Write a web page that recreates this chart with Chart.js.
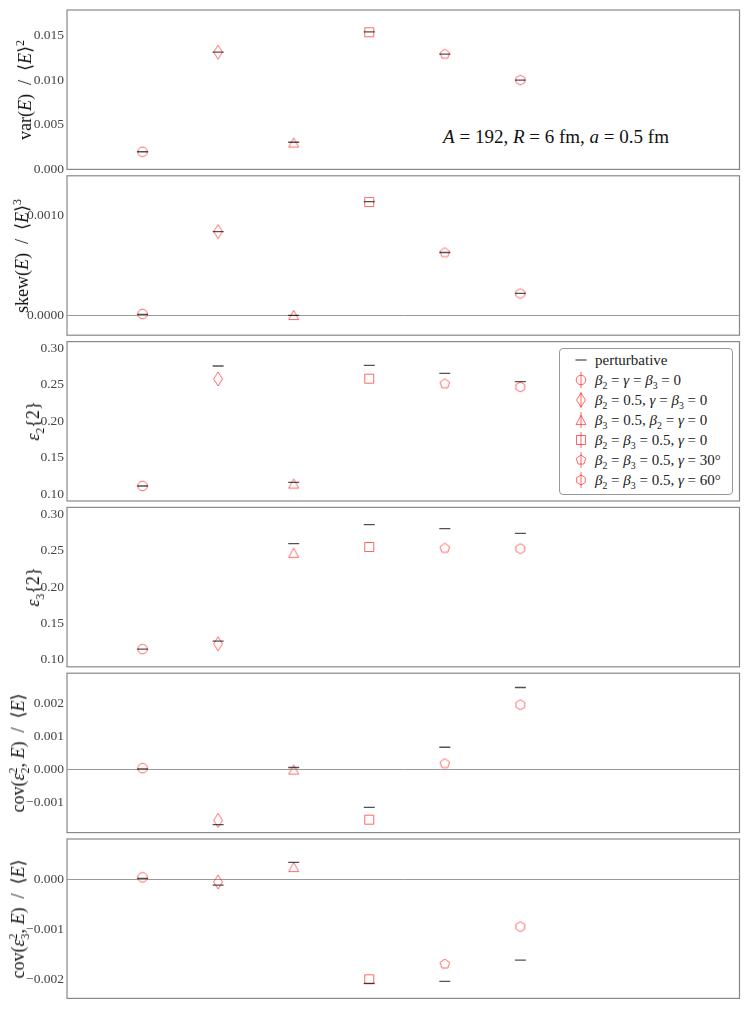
<!DOCTYPE html>
<html lang="en">
<head>
<meta charset="UTF-8">
<title>Energy fluctuations and eccentricities</title>
<script src="https://cdn.jsdelivr.net/npm/chart.js"></script>
<style>
  body { margin: 0; background: #fff; }
  #page { position: relative; width: 747px; height: 1009px; overflow: hidden; font-family: "Liberation Serif", serif; }
  .ytitle { position: absolute; transform: translate(-50%, -50%) rotate(-90deg); white-space: nowrap;
            font-size: 18px; line-height: 1; color: #111; }
  sub, sup { font-size: 65%; line-height: 0; }
  sup.bk { margin-left: -0.5em; }
  #legend { position: absolute; left: 559px; top: 348px; width: 174px; height: 147px; box-sizing: border-box;
            border: 1px solid #999; border-radius: 4px; background: #fff; font-size: 15px; color: #222; }
  #legend .row { position: absolute; left: 0; height: 20px; line-height: 20px; white-space: nowrap; }
  #legend canvas { position: absolute; left: 11px; top: 0; }
  #legend span { position: absolute; left: 35px; top: 0; }
  #note { position: absolute; left: 556px; top: 136px; transform: translate(-50%, -50%); white-space: nowrap;
          font-size: 19px; color: #111; line-height: 1; }
</style>
</head>
<body>
<div id="page">
  <div id="note"><i>A</i> = 192, <i>R</i> = 6 fm, <i>a</i> = 0.5 fm</div>
</div>

<script>
// configurations (one marker each, x = index)
const categories = ['β₂ = γ = β₃ = 0', 'β₂ = 0.5, γ = β₃ = 0', 'β₃ = 0.5, β₂ = γ = 0',
                    'β₂ = β₃ = 0.5, γ = 0', 'β₂ = β₃ = 0.5, γ = 30°', 'β₂ = β₃ = 0.5, γ = 60°'];

// var(E)/<E>^2
const varSim  = [0.00198, 0.01316, 0.00302, 0.01540, 0.01294, 0.01003];
const varPert = [0.00198, 0.01316, 0.00305, 0.01545, 0.01294, 0.01003];
// skew(E)/<E>^3
const skewSim  = [0.000013, 0.00084, 0.000003, 0.001137, 0.000629, 0.000218];
const skewPert = [0.000010, 0.00084, 0.000000, 0.001140, 0.000630, 0.000220];
// eps2{2}
const eps2Sim  = [0.111, 0.258, 0.1144, 0.2584, 0.2515, 0.2470];
const eps2Pert = [0.111, 0.2758, 0.1160, 0.2767, 0.2658, 0.2543];
// eps3{2}
const eps3Sim  = [0.1147, 0.1220, 0.2471, 0.2551, 0.2533, 0.2528];
const eps3Pert = [0.1147, 0.1257, 0.2596, 0.2857, 0.2802, 0.2739];
// cov(eps2^2, E)/<E>
const cov2Sim  = [0.00004, -0.00153, 0.00000, -0.00151, 0.00018, 0.00195];
const cov2Pert = [0.00002, -0.00166, 0.00006, -0.00114, 0.00067, 0.00247];
// cov(eps3^2, E)/<E>
const cov3Sim  = [0.00004, -0.000054, 0.000247, -0.002006, -0.00170, -0.00095];
const cov3Pert = [0.00002, -0.000114, 0.000340, -0.002090, -0.00205, -0.00162];

// tick labels per panel
const varTicks  = [0, 0.005, 0.010, 0.015];
const skewTicks = [0, 0.001];
const epsTicks  = [0.10, 0.15, 0.20, 0.25, 0.30];
const cov2Ticks = [-0.001, 0, 0.001, 0.002];
const cov3Ticks = [-0.002, -0.001, 0];

const SIM_COLOR = 'rgba(255,0,0,0.6)';
const PERT_COLOR = 'rgba(0,0,0,0.68)';
const PANEL_TOPS = [10, 175.8, 341.6, 507.4, 673.2, 839];
const PANEL_H = 159.4;
const page = document.getElementById('page');

const panels = [
  { sim: varSim,  pert: varPert,  ticks: varTicks,  dec: 3, min: 0,       max: 0.0179,  zero: false, tx: 25,
    title: 'var(<i>E</i>)&ensp;/&ensp;⟨<i>E</i>⟩<sup>2</sup>' },
  { sim: skewSim, pert: skewPert, ticks: skewTicks, dec: 4, min: -0.0002, max: 0.0014,  zero: true,  tx: 22,
    title: 'skew(<i>E</i>)&ensp;/&ensp;⟨<i>E</i>⟩<sup>3</sup>' },
  { sim: eps2Sim, pert: eps2Pert, ticks: epsTicks,  dec: 2, min: 0.0904,  max: 0.3093,  zero: false, tx: 33,
    title: '<i>ε</i><sub>2</sub>{2}' },
  { sim: eps3Sim, pert: eps3Pert, ticks: epsTicks,  dec: 2, min: 0.0904,  max: 0.3095,  zero: false, tx: 33,
    title: '<i>ε</i><sub>3</sub>{2}' },
  { sim: cov2Sim, pert: cov2Pert, ticks: cov2Ticks, dec: 3, min: -0.0019, max: 0.0029,  zero: true,  tx: 18,
    title: 'cov(<i>ε</i><sub>2</sub><sup class="bk">2</sup>, <i>E</i>)&ensp;/&ensp;⟨<i>E</i>⟩' },
  { sim: cov3Sim, pert: cov3Pert, ticks: cov3Ticks, dec: 3, min: -0.00239, max: 0.00081, zero: true, tx: 18,
    title: 'cov(<i>ε</i><sub>3</sub><sup class="bk">2</sup>, <i>E</i>)&ensp;/&ensp;⟨<i>E</i>⟩' }
];

// hollow marker images (circle, thin diamond, triangle, square, pentagon, hexagon)
const markerKinds = ['circle', 'thin_diamond', 'triangle', 'square', 'pentagon', 'hexagon'];
function drawMarker(g, kind) {
  g.beginPath();
  if (kind === 'circle') g.arc(0, 0, 4.8, 0, 2 * Math.PI);
  else if (kind === 'thin_diamond') { g.moveTo(0, -7); g.lineTo(4.4, 0); g.lineTo(0, 7); g.lineTo(-4.4, 0); g.closePath(); }
  else if (kind === 'triangle') { g.moveTo(0, -4.6); g.lineTo(5, 4.6); g.lineTo(-5, 4.6); g.closePath(); }
  else if (kind === 'square') g.rect(-4.5, -4.5, 9, 9);
  else {
    const n = kind === 'pentagon' ? 5 : 6, r = 5;
    for (let k = 0; k < n; k++) {
      const a = -Math.PI / 2 + k * 2 * Math.PI / n;
      if (k === 0) g.moveTo(r * Math.cos(a), r * Math.sin(a)); else g.lineTo(r * Math.cos(a), r * Math.sin(a));
    }
    g.closePath();
  }
  g.stroke();
}
function markerCanvas(kind) {
  const c = document.createElement('canvas');
  c.width = 16; c.height = 18;
  const g = c.getContext('2d');
  g.strokeStyle = SIM_COLOR; g.lineWidth = 1;
  g.translate(8, 9);
  drawMarker(g, kind);
  return c;
}
const markers = markerKinds.map(markerCanvas);

const framePlugin = {
  id: 'frame',
  beforeDatasetsDraw(chart) {
    const a = chart.chartArea, c = chart.ctx;
    c.save();
    c.strokeStyle = '#888';
    c.lineWidth = 1.2;
    c.strokeRect(a.left, a.top, a.right - a.left, a.bottom - a.top);
    c.restore();
  }
};

function fmt(v, dec) {
  return (Math.abs(v) < 1e-12 ? 0 : v).toFixed(dec).replace('-', '\u2212');
}

panels.forEach(function (p, i) {
  const top = PANEL_TOPS[i];
  const cTop = Math.floor(top) - 12;
  const cH = 184;
  const canvas = document.createElement('canvas');
  canvas.width = 747; canvas.height = cH;
  canvas.style.cssText = 'position:absolute;left:0;top:' + cTop + 'px';
  page.appendChild(canvas);

  const t = document.createElement('div');
  t.className = 'ytitle';
  t.style.left = p.tx + 'px';
  t.style.top = (top + PANEL_H / 2) + 'px';
  t.innerHTML = p.title;
  page.appendChild(t);

  new Chart(canvas, {
    type: 'scatter',
    data: {
      datasets: [
        { label: 'perturbative', data: p.pert.map((v, k) => ({ x: k, y: v })),
          pointStyle: 'line', pointRadius: 5.5, borderColor: PERT_COLOR, borderWidth: 1.3, order: 0 },
        { label: 'simulation', data: p.sim.map((v, k) => ({ x: k, y: v })),
          pointStyle: markers, pointRadius: 6, order: 1 }
      ]
    },
    options: {
      responsive: false,
      animation: false,
      events: [],
      layout: { padding: { left: 0, right: 7.5, top: top - cTop, bottom: cH - (top - cTop) - PANEL_H } },
      plugins: { legend: { display: false }, tooltip: { enabled: false } },
      scales: {
        x: { type: 'linear', min: -1, max: 7.9, display: false },
        y: {
          min: p.min, max: p.max,
          afterFit: s => { s.width = 67; },
          afterBuildTicks: s => { s.ticks = p.ticks.map(v => ({ value: v })); },
          ticks: { callback: v => fmt(v, p.dec), color: '#444', padding: 3, autoSkip: false,
                   font: { family: 'Liberation Serif', size: 13.5 } },
          grid: { drawTicks: false, lineWidth: 1,
                  color: ctx => (p.zero && ctx.tick && Math.abs(ctx.tick.value) < 1e-12) ? '#999' : 'rgba(0,0,0,0)' },
          border: { display: false }
        }
      }
    },
    plugins: [framePlugin]
  });
});

// legend inside the eps2 panel
const legend = document.createElement('div');
legend.id = 'legend';
page.appendChild(legend);
function mathLabel(s) {
  return s.replace(/([βγ])/g, '<i>$1</i>').replace(/₂/g, '<sub>2</sub>').replace(/₃/g, '<sub>3</sub>');
}
const rows = [{ kind: 'pert', label: 'perturbative' }].concat(
  categories.map((c, k) => ({ kind: markerKinds[k], label: mathLabel(c) })));
rows.forEach(function (r, k) {
  const row = document.createElement('div');
  row.className = 'row';
  row.style.top = (1 + k * 20) + 'px';
  const ic = document.createElement('canvas');
  ic.width = 20; ic.height = 20;
  const g = ic.getContext('2d');
  g.translate(10, 10);
  if (r.kind === 'pert') {
    g.strokeStyle = PERT_COLOR; g.lineWidth = 1.3;
    g.beginPath(); g.moveTo(-5.5, 0); g.lineTo(5.5, 0); g.stroke();
  } else {
    g.strokeStyle = SIM_COLOR; g.lineWidth = 1;
    g.beginPath(); g.moveTo(0, -8); g.lineTo(0, 8); g.stroke();
    drawMarker(g, r.kind);
  }
  const sp = document.createElement('span');
  sp.innerHTML = r.label;
  row.appendChild(ic);
  row.appendChild(sp);
  legend.appendChild(row);
});
</script>
</body>
</html>
